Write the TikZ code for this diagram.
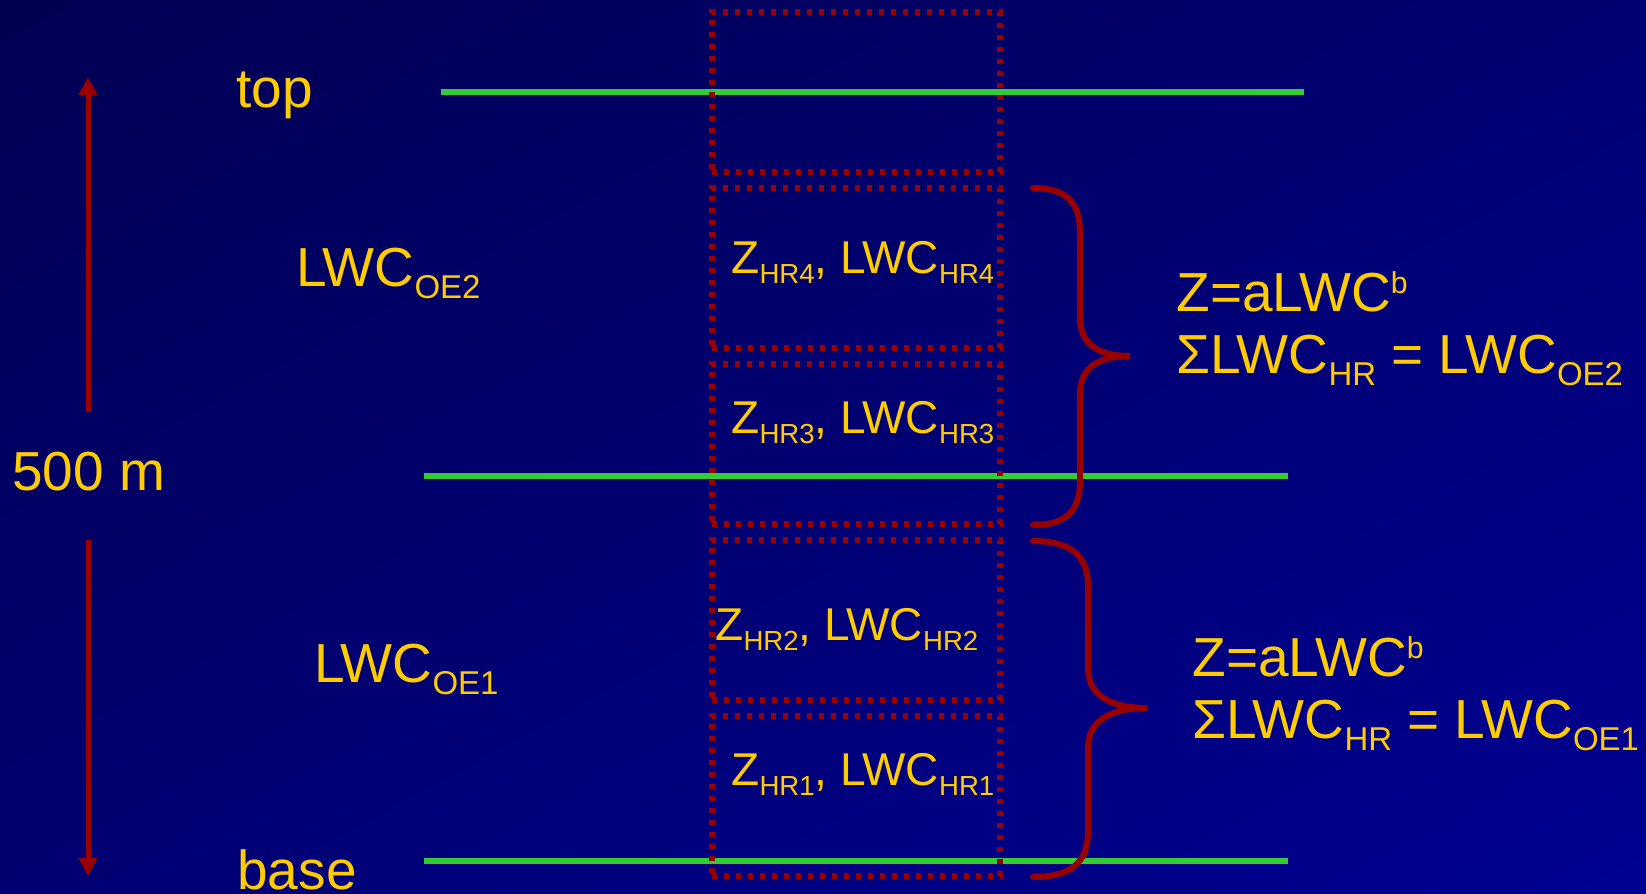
\documentclass[tikz,border=0pt]{standalone}
\usepackage{fontspec}
\setmainfont{Liberation Sans}
\usepackage{graphicx}
\usetikzlibrary{arrows.meta,positioning,shadings}
\definecolor{radarNavy}{RGB}{0,0,82}
\definecolor{radarNavyMid}{RGB}{0,0,114}
\definecolor{radarBlue}{RGB}{0,0,146}
\definecolor{radarGold}{RGB}{255,204,0}
\definecolor{radarRed}{RGB}{153,0,0}
\definecolor{radarGreen}{RGB}{51,204,51}
\newcommand{\lo}[1]{\raisebox{-0.22em}{\scalebox{0.6}{#1}}}
\newcommand{\hi}[1]{\raisebox{0.31em}{\scalebox{0.55}{#1}}}
\tikzset{
  biglabel/.style={
    inner sep=0pt, anchor=base west, text=radarGold,
    font=\fontsize{27.5}{32}\selectfont},
  hrlabel/.style={
    biglabel, font=\fontsize{23}{27}\selectfont},
  hrbox/.style={
    rectangle, draw=radarRed, line width=3pt, dash pattern=on 2.5pt off 3.5pt,
    minimum width=144pt, minimum height=80pt, inner sep=0pt, outer sep=0pt},
  levelline/.style={draw=radarGreen, line width=2.75pt},
  bracepath/.style={draw=radarRed, line width=3pt, line cap=round},
  arrowline/.style={-{Triangle[length=9pt,width=9pt]}, draw=radarRed, line width=2.5pt}
}

\begin{document}
\begin{tikzpicture}[x=0.5pt, y=-0.5pt]

    % ---- background ---------------------------------------------
    \shade[upper left=radarNavy, upper right=radarNavyMid,
           lower left=radarNavyMid, lower right=radarBlue]
      (0,0) rectangle (1646,894);
    \useasboundingbox (0,0) rectangle (1646,894);

    % ---- cloud levels -------------------------------------------
    \draw[levelline] (441,92)  -- (1304,92);
    \draw[levelline] (424,476) -- (1288,476);
    \draw[levelline] (424,861) -- (1288,861);

    % ---- radar boxes --------------------------------------------
    \node[hrbox] (hr0) at (856,92) {};
    \node[hrbox, below=8pt of hr0] (hr4) {};
    \node[hrbox, below=8pt of hr4] (hr3) {};
    \node[hrbox, below=8pt of hr3] (hr2) {};
    \node[hrbox, below=8pt of hr2] (hr1) {};

    \node[hrlabel] (lblhr4) at (731,273) {Z\lo{HR4}, LWC\lo{HR4}};
    \node[hrlabel] (lblhr3) at (731,433) {Z\lo{HR3}, LWC\lo{HR3}};
    \node[hrlabel] (lblhr2) at (715,640) {Z\lo{HR2}, LWC\lo{HR2}};
    \node[hrlabel] (lblhr1) at (731,785) {Z\lo{HR1}, LWC\lo{HR1}};

    % ---- left labels --------------------------------------------
    \node[biglabel] (top)   at (236,107) {top};
    \node[biglabel] (base)  at (237,889) {base};
    \node[biglabel] (oe2)   at (296,286) {LWC\lo{OE2}};
    \node[biglabel] (oe1)   at (314,682) {LWC\lo{OE1}};
    \node[biglabel] (depth) at (12,490)  {500 m};

    % ---- depth arrows -------------------------------------------
    \coordinate (upfrom)   at (88,412);
    \coordinate (upto)     at (88,77);
    \coordinate (downfrom) at (88,540);
    \coordinate (downto)   at (88,876);
    \draw[arrowline] (upfrom)   -- (upto);
    \draw[arrowline] (downfrom) -- (downto);

    % ---- braces -------------------------------------------------
    \draw[bracepath] (1033,188) .. controls (1066,188) and (1080,202) .. (1080,232)
      -- (1080,318) .. controls (1080,344) and (1098,356) .. (1130,356)
      .. controls (1098,356) and (1080,368) .. (1080,394)
      -- (1080,481) .. controls (1080,511) and (1066,525) .. (1033,525);
    \draw[bracepath] (1033,541) .. controls (1070,541) and (1088,555) .. (1088,586)
      -- (1088,668) .. controls (1088,695) and (1110,708) .. (1147,708)
      .. controls (1110,708) and (1088,721) .. (1088,748)
      -- (1088,832) .. controls (1088,863) and (1070,877) .. (1033,877);

    % ---- relations ----------------------------------------------
    \node[biglabel] (rel2a) at (1176,311) {Z=aLWC\hi{b}};
    \node[biglabel] (rel2b) at (1176,373) {ΣLWC\lo{HR} = LWC\lo{OE2}};
    \node[biglabel] (rel1a) at (1192,676) {Z=aLWC\hi{b}};
    \node[biglabel] (rel1b) at (1192,738) {ΣLWC\lo{HR} = LWC\lo{OE1}};

\end{tikzpicture}
\end{document}
